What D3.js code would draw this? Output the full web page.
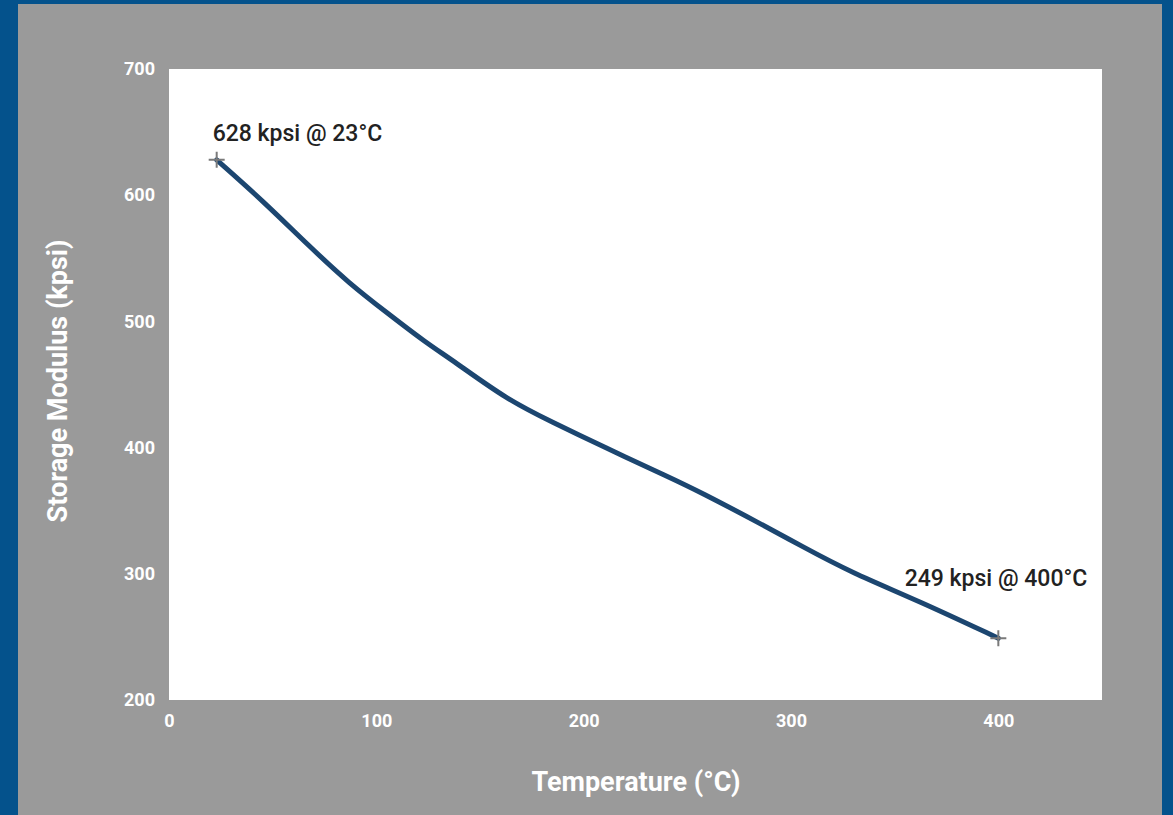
<!DOCTYPE html>
<html>
<head>
<meta charset="utf-8">
<script src="https://cdn.jsdelivr.net/npm/d3@7"></script>
<style>
    html, body { margin: 0; padding: 0; background: #04528c; }
    svg { display: block; font-family: Roboto, "Noto Sans", sans-serif; }
</style>
</head>
<body>
<div id="chart"></div>
<script>
//  Define width and height
var chart_width     =   1173;
var chart_height    =   815;

// Data
var temperature     =   [23, 45, 68, 87, 105, 124, 137, 163, 185, 209, 242, 256, 285, 305, 329, 361, 400];
var modulus         =   [628, 596, 559, 530, 507, 483, 469, 438, 420, 401, 376, 365, 340, 322, 301, 279, 249];
var x_ticks         =   [0, 100, 200, 300, 400];
var y_ticks         =   [200, 300, 400, 500, 600, 700];
var labels          =   ["628 kpsi @ 23°C", "249 kpsi @ 400°C"];

var points          =   temperature.map(function(t, i){ return { t: t, v: modulus[i] }; });
var ends            =   [ points[0], points[points.length - 1] ];

// Scales
var x               =   d3.scaleLinear().domain([0, 450]).range([169, 1102]);
var y               =   d3.scaleLinear().domain([200, 700]).range([700, 69]);

// Create SVG
var svg             =   d3.select("#chart")
    .append("svg")
    .attr("width", chart_width)
    .attr("height", chart_height);

// gray panel inside blue frame
svg.append("rect")
    .attr("x", 18).attr("y", 4)
    .attr("width", 1162 - 18).attr("height", chart_height - 4)
    .attr("fill", "#9a9a9a");

// plot area
svg.append("rect")
    .attr("x", x(0)).attr("y", y(700))
    .attr("width", x(450) - x(0)).attr("height", y(200) - y(700))
    .attr("fill", "#ffffff");

// Axes
var x_axis = svg.append("g")
    .attr("transform", "translate(0," + (y(200) + 6) + ")")
    .call(d3.axisBottom(x).tickValues(x_ticks).tickSize(0).tickPadding(8));

var y_axis = svg.append("g")
    .attr("transform", "translate(" + (x(0) - 14) + ",0)")
    .call(d3.axisLeft(y).tickValues(y_ticks).tickSize(0).tickPadding(0));

[x_axis, y_axis].forEach(function(g){
    g.select(".domain").remove();
    g.selectAll("text")
        .attr("fill", "#ffffff")
        .attr("font-size", 18)
        .attr("font-weight", "bold")
        .attr("font-family", "Roboto, sans-serif");
});

// Axis titles
svg.append("text")
    .attr("x", 636).attr("y", 791)
    .attr("text-anchor", "middle")
    .attr("fill", "#ffffff")
    .attr("font-size", 27)
    .attr("font-weight", "bold")
    .text("Temperature (°C)");

svg.append("text")
    .attr("transform", "translate(67,381) rotate(-90)")
    .attr("text-anchor", "middle")
    .attr("fill", "#ffffff")
    .attr("font-size", 27)
    .attr("font-weight", "bold")
    .text("Storage Modulus (kpsi)");

// Line
var line = d3.line()
    .x(function(d){ return x(d.t); })
    .y(function(d){ return y(d.v); })
    .curve(d3.curveBasis);

svg.append("path")
    .datum(points)
    .attr("d", line)
    .attr("fill", "none")
    .attr("stroke", "#1c4670")
    .attr("stroke-width", 5)
    .attr("stroke-linecap", "round");

// End markers
svg.selectAll(".marker")
    .data(ends)
    .enter().append("path")
    .attr("class", "marker")
    .attr("d", function(d){
        var cx = x(d.t), cy = y(d.v);
        return "M" + (cx - 8) + "," + cy + "H" + (cx + 8) + "M" + cx + "," + (cy - 8) + "V" + (cy + 8);
    })
    .attr("stroke", "#7a7a7a")
    .attr("stroke-width", 2);

// Annotations
svg.selectAll(".note")
    .data(ends)
    .enter().append("text")
    .attr("class", "note")
    .attr("x", function(d, i){ return i === 0 ? x(d.t) - 4 : x(d.t) + 89; })
    .attr("y", function(d, i){ return i === 0 ? y(d.v) - 19 : y(d.v) - 52; })
    .attr("text-anchor", function(d, i){ return i === 0 ? "start" : "end"; })
    .attr("fill", "#222222")
    .attr("font-size", 23)
    .attr("font-weight", 500)
    .text(function(d, i){ return labels[i]; });
</script>
</body>
</html>
